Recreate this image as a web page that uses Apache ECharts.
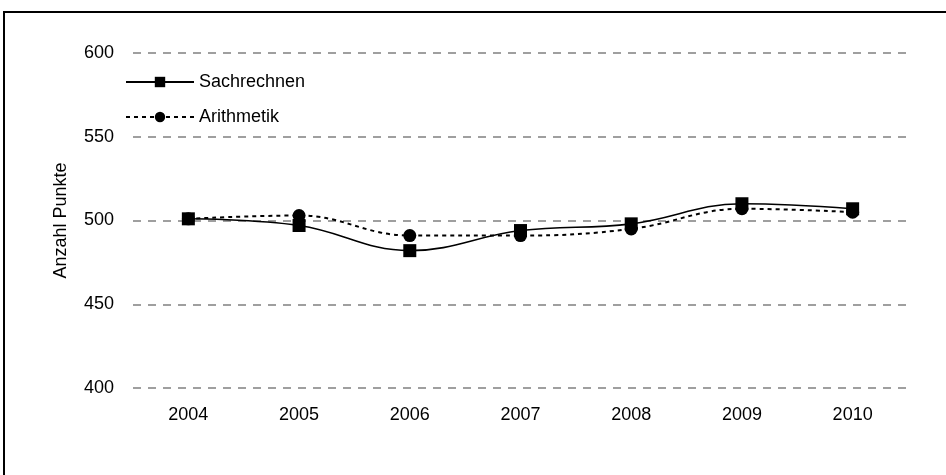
<!DOCTYPE html>
<html>
<head>
<meta charset="utf-8">
<script src="https://cdn.jsdelivr.net/npm/echarts@6/dist/echarts.min.js"></script>
<style>
  html, body { margin: 0; padding: 0; background: #fff; }
  #chart { width: 946px; height: 475px; }
</style>
</head>
<body>
<div id="chart"></div>
<script>
const years = ['2004', '2005', '2006', '2007', '2008', '2009', '2010'];
const sachrechnen = [501, 497, 482, 494, 498, 510, 507];
const arithmetik = [501, 503, 491, 491, 495, 507, 505];
const yTicks = { min: 400, max: 600, step: 50 };

const font = '"Liberation Sans", sans-serif';

const chart = echarts.init(document.getElementById('chart'));
chart.setOption({
  backgroundColor: '#fff',
  animation: false,
  // frame: only top and left edges are visible
  graphic: [{
    type: 'polyline',
    shape: { points: [[4, 475], [4, 12], [946, 12]] },
    style: { stroke: '#000', lineWidth: 2, fill: null },
    silent: true
  }],
  grid: { left: 133, right: 38, top: 53, bottom: 87 },
  legend: {
    orient: 'vertical',
    left: 120,
    top: 68,
    itemWidth: 68,
    itemHeight: 13,
    itemGap: 17,
    textStyle: { fontFamily: font, fontSize: 18, color: '#000' },
    data: ['Sachrechnen', 'Arithmetik']
  },
  xAxis: {
    type: 'category',
    data: years,
    boundaryGap: true,
    axisLine: { show: false },
    axisTick: { show: false },
    axisLabel: { color: '#000', fontFamily: font, fontSize: 18, margin: 18 }
  },
  yAxis: {
    type: 'value',
    min: yTicks.min,
    max: yTicks.max,
    interval: yTicks.step,
    name: 'Anzahl Punkte',
    nameLocation: 'middle',
    nameGap: 63,
    nameTextStyle: { color: '#000', fontFamily: font, fontSize: 18 },
    axisLine: { show: false },
    axisTick: { show: false },
    axisLabel: { color: '#000', fontFamily: font, fontSize: 18, margin: 19 },
    splitLine: {
      lineStyle: { color: '#808080', width: 1.5, type: [8, 7] }
    }
  },
  series: [
    {
      name: 'Sachrechnen',
      type: 'line',
      data: sachrechnen,
      smooth: 0.4,
      symbol: 'rect',
      symbolSize: 13,
      itemStyle: { color: '#000' },
      lineStyle: { color: '#000', width: 1.6 },
      z: 3
    },
    {
      name: 'Arithmetik',
      type: 'line',
      data: arithmetik,
      smooth: 0.4,
      symbol: 'circle',
      symbolSize: 13,
      itemStyle: { color: '#000' },
      lineStyle: { color: '#000', width: 2, type: [4, 4] },
      z: 2
    }
  ]
});
</script>
</body>
</html>
